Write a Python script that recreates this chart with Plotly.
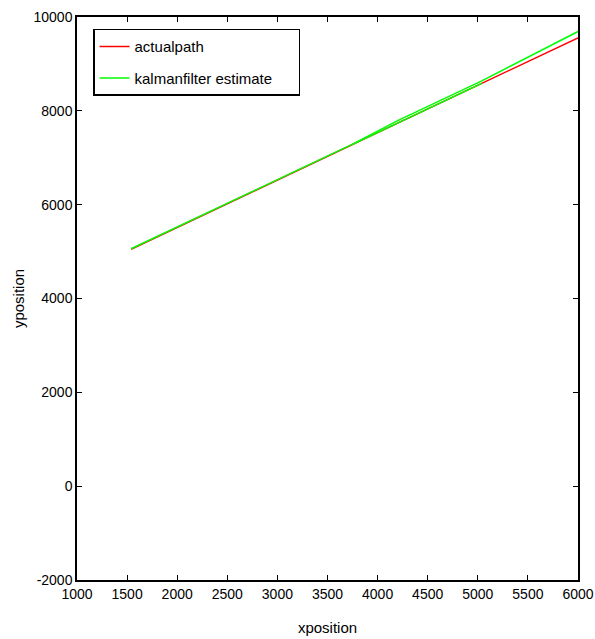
import plotly.graph_objects as go

# Actual path
actual_x = [1540, 3750, 6000]
actual_y = [5050, 7285, 9555]

# Kalman filter estimate (main branch and overlapping branch)
est_x = [1540, 3000, 3750, 4200, 5040, 6000]
est_y = [5060, 6530, 7290, 7790, 8640, 9690]
est2_x = [3750, 4400, 5040]
est2_y = [7285, 7945, 8585]

x_ticks = [1000, 1500, 2000, 2500, 3000, 3500, 4000, 4500, 5000, 5500, 6000]
y_ticks = [-2000, 0, 2000, 4000, 6000, 8000, 10000]
series_names = ["actualpath", "kalmanfilter estimate"]

FONT = "Liberation Sans, Arial, sans-serif"
FS = 15
TFS = 14
PAD = "&nbsp;" * 5  # widen the legend box a little

fig = go.Figure()
fig.add_trace(go.Scatter(x=actual_x, y=actual_y, mode="lines", legendgroup="a",
                         line=dict(color="#ff0000", width=1.5), name=series_names[0]))
fig.add_trace(go.Scatter(x=est_x, y=est_y, mode="lines", legendgroup="b",
                         line=dict(color="#00ff00", width=1.5), name=series_names[1] + PAD))
fig.add_trace(go.Scatter(x=est2_x, y=est2_y, mode="lines", legendgroup="b",
                         line=dict(color="#00ff00", width=1.5), showlegend=False))

axis_common = dict(showgrid=False, zeroline=False, showline=True, mirror="ticks",
                   linecolor="black", linewidth=1.5, ticks="inside", ticklen=5,
                   tickcolor="black", tickwidth=1, automargin=False,
                   tickfont=dict(family=FONT, size=TFS, color="black"))

fig.update_layout(
    width=595, height=639,
    margin=dict(l=77, r=17, t=17, b=59),
    paper_bgcolor="white", plot_bgcolor="white",
    font=dict(family=FONT, size=FS, color="black"),
    xaxis=dict(range=[1000, 6000], tickvals=x_ticks, ticktext=[str(v) for v in x_ticks],
               title=dict(text="xposition", standoff=22, font=dict(size=FS)), **axis_common),
    yaxis=dict(range=[-2000, 10000], tickvals=y_ticks, ticktext=[str(v) for v in y_ticks],
               title=dict(text="yposition", standoff=5, font=dict(size=FS)), **axis_common),
    legend=dict(x=0.032, y=0.979, xanchor="left", yanchor="top",
                bordercolor="black", borderwidth=1.5, bgcolor="white",
                font=dict(family=FONT, size=FS), tracegroupgap=9),
    showlegend=True,
)

fig.write_html("out.html", config={"displayModeBar": False},
               post_script="document.body.style.margin='0';document.body.style.overflow='hidden';")
